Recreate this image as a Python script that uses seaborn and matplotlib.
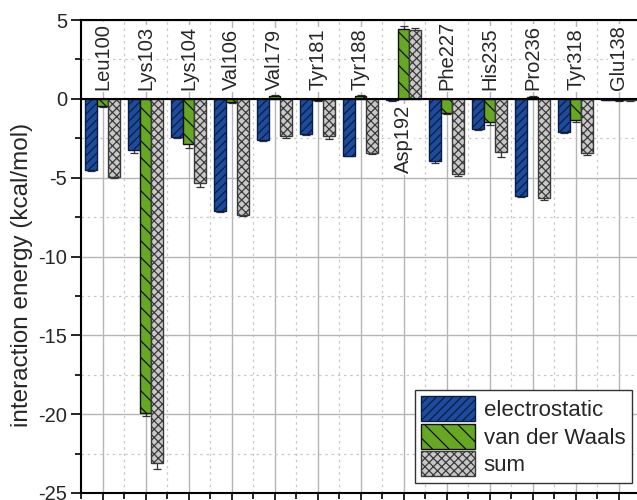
import matplotlib
matplotlib.use("Agg")
import matplotlib.pyplot as plt
import seaborn as sns
import pandas as pd
import numpy as np

residues = ["Leu100", "Lys103", "Lys104", "Val106", "Val179", "Tyr181", "Tyr188",
            "Asp192", "Phe227", "His235", "Pro236", "Tyr318", "Glu138"]
components = ["electrostatic", "van der Waals", "sum"]

electrostatic = [-4.53, -3.26, -2.41, -7.14, -2.58, -2.20, -3.60, -0.10, -3.96, -1.90, -6.18, -2.12, -0.05]
van_der_waals = [-0.47, -19.90, -2.84, -0.22, 0.20, -0.10, 0.20, 4.44, -0.89, -1.48, 0.10, -1.36, -0.10]
total = [-4.95, -23.10, -5.33, -7.35, -2.37, -2.37, -3.43, 4.36, -4.74, -3.39, -6.29, -3.43, -0.10]

electrostatic_err = [0.05, 0.20, 0.05, 0.05, 0.10, 0.10, 0.05, 0.05, 0.10, 0.05, 0.05, 0.05, 0.02]
van_der_waals_err = [0.05, 0.20, 0.25, 0.05, 0.05, 0.05, 0.05, 0.15, 0.05, 0.15, 0.05, 0.10, 0.02]
total_err = [0.05, 0.40, 0.27, 0.10, 0.10, 0.15, 0.05, 0.12, 0.15, 0.30, 0.10, 0.15, 0.02]

values = [electrostatic, van_der_waals, total]
errors = [electrostatic_err, van_der_waals_err, total_err]

df = pd.DataFrame({
    "residue": residues * 3,
    "component": [c for c in components for _ in residues],
    "energy": electrostatic + van_der_waals + total,
})

sns.set_theme(style="white")
plt.rcParams["font.family"] = ["Liberation Sans", "DejaVu Sans"]
plt.rcParams["hatch.linewidth"] = 0.9

face = {"electrostatic": "#1d4c9c", "van der Waals": "#66a823", "sum": "#c8c8c8"}
edge = {"electrostatic": "#0a1c45", "van der Waals": "#111111", "sum": "#3a3a3a"}
hatch = {"electrostatic": "////", "van der Waals": "\\\\", "sum": "xxxx"}

fig = plt.figure(figsize=(6.37, 5.0), dpi=100)
ax = fig.add_axes([81 / 637, 7 / 500, 559 / 637, 473 / 500])

sns.barplot(data=df, x="residue", y="energy", hue="component", order=residues,
            hue_order=components, palette=face, saturation=1, errorbar=None, width=0.8,
            legend=False, ax=ax, zorder=3)

bar_containers = list(ax.containers)
for comp, cont, errs in zip(components, bar_containers, errors):
    xs = []
    ys = []
    for bar in cont:
        bar.set_hatch(hatch[comp])
        bar.set_edgecolor(edge[comp])
        bar.set_linewidth(1.0)
        xs.append(bar.get_x() + bar.get_width() / 2)
        ys.append(bar.get_y() + bar.get_height())
    ax.errorbar(xs, ys, yerr=errs, fmt="none", ecolor="#333333", elinewidth=0.9,
                capsize=3, capthick=0.9, zorder=2)

ax.set_xlim(-0.5, 12.5)
ax.set_ylim(-25, 5)
ax.set_yticks(np.arange(-25, 5.1, 5))
ax.set_yticks(np.arange(-22.5, 5, 5), minor=True)
ax.set_xticks(np.arange(len(residues)))
ax.set_xticks(np.arange(-0.5, len(residues), 1.0), minor=True)
ax.tick_params(axis="x", which="both", bottom=True, labelbottom=False, direction="out",
               length=6, width=1.2, color="black")
ax.tick_params(axis="x", which="minor", length=4)
ax.tick_params(axis="y", which="major", left=True, direction="out", length=7, width=1.2,
               labelsize=14.5, pad=3, color="black")
ax.tick_params(axis="y", which="minor", left=True, direction="out", length=4, width=1.2,
               color="black")
ax.set_yticklabels([str(int(v)) for v in np.arange(-25, 5.1, 5)])

ax.grid(True, which="major", color="#b5b5b5", linewidth=1.0, zorder=0)
ax.grid(True, which="minor", color="#c8c8c8", linewidth=0.9, linestyle=(0, (2, 3)), zorder=0)
ax.set_axisbelow(True)
ax.axhline(0, color="black", linewidth=1.5, zorder=4)

for side in ["left", "top", "bottom"]:
    ax.spines[side].set_color("black")
    ax.spines[side].set_linewidth(1.5)
    ax.spines[side].set_zorder(7)
ax.spines["right"].set_visible(False)

ax.set_xlabel("")
ax.set_ylabel("interaction energy (kcal/mol)", fontsize=17.5)
ax.yaxis.set_label_coords(-0.085, 0.462)

for i, name in enumerate(residues):
    if max(values[1][i], values[2][i]) > 1:
        ax.text(i, -0.4, name, rotation=90, ha="center", va="top", fontsize=14.5,
                bbox=dict(facecolor="white", edgecolor="none", pad=1), zorder=5)
    else:
        ax.text(i, 0.55, name, rotation=90, ha="center", va="bottom", fontsize=14.5,
                bbox=dict(facecolor="white", edgecolor="none", pad=1), zorder=5)

handles = [cont.patches[0] for cont in bar_containers]
leg = ax.legend(handles, components, loc="lower right",
                bbox_to_anchor=(632 / 637, 17 / 500), bbox_transform=fig.transFigure,
                fontsize=16, handlelength=2.4, handleheight=1.35, handletextpad=0.4,
                labelspacing=0.12, borderpad=0.3, borderaxespad=0, fancybox=False,
                framealpha=1, edgecolor="#333333")
leg.get_frame().set_linewidth(1.0)
leg.set_zorder(6)

fig.savefig("out.png", dpi=100)
